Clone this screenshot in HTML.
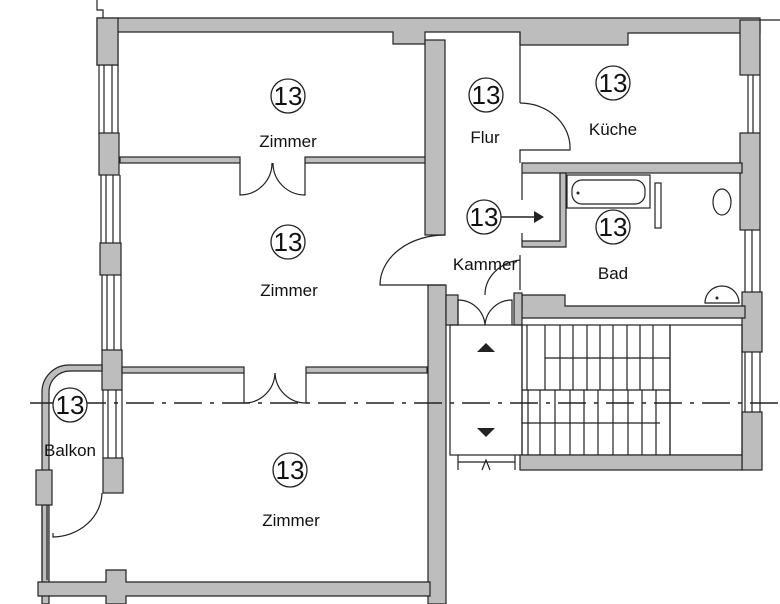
<!DOCTYPE html>
<html><head><meta charset="utf-8"><style>
html,body{margin:0;padding:0;background:#fff}
svg{display:block}
text{font-family:"Liberation Sans",sans-serif;fill:#111}
.w{fill:#bdbdbd;stroke:#222;stroke-width:1.2}
.l{fill:none;stroke:#222;stroke-width:1.2}
.n{font-size:26px;text-anchor:middle}
.t{font-size:17px;text-anchor:middle}
</style></head><body>
<svg width="780" height="604" viewBox="0 0 780 604" xmlns="http://www.w3.org/2000/svg">
<path class="l" d="M97 0 V10 H103 V18"/>
<line class="l" x1="740" y1="20" x2="780" y2="20"/>
<!-- top wall -->
<path class="w" d="M97 18 H760 V33 H740 V33 H628 V45 H520 V32 H425 V44 H393 V32 H118 V65 H97 Z"/>
<!-- left outer wall with windows -->
<rect class="w" x="97" y="18" width="21" height="47"/>
<rect class="w" x="99" y="133" width="20" height="42"/>
<rect class="w" x="100" y="243" width="21" height="32"/>
<rect class="w" x="102" y="350" width="20" height="40"/>
<rect class="w" x="103" y="458" width="20" height="35"/>
<g class="l">
<line x1="99" y1="65" x2="99" y2="133"/><line x1="104" y1="65" x2="104" y2="133"/><line x1="112" y1="65" x2="112" y2="133"/><line x1="118" y1="65" x2="118" y2="133"/>
<line x1="101" y1="175" x2="101" y2="243"/><line x1="106" y1="175" x2="106" y2="243"/><line x1="113" y1="175" x2="113" y2="243"/><line x1="120" y1="175" x2="120" y2="243"/>
<line x1="102" y1="275" x2="102" y2="350"/><line x1="107" y1="275" x2="107" y2="350"/><line x1="114" y1="275" x2="114" y2="350"/><line x1="121" y1="275" x2="121" y2="350"/>
<line x1="103" y1="390" x2="103" y2="458"/><line x1="108" y1="390" x2="108" y2="458"/><line x1="116" y1="390" x2="116" y2="458"/><line x1="122" y1="390" x2="122" y2="458"/>
</g>
<!-- interior partitions -->
<rect class="w" x="120" y="157" width="120" height="6"/>
<rect class="w" x="305" y="157" width="122" height="6"/>
<rect class="w" x="122" y="367" width="122" height="6"/>
<rect class="w" x="306" y="367" width="121" height="6"/>
<path class="l" d="M240 163 V195 A32 32 0 0 0 272 163"/>
<path class="l" d="M305 163 V195 A32 32 0 0 1 273 163"/>
<path class="l" d="M244 373 V403 A31 31 0 0 0 275 373"/>
<path class="l" d="M306 373 V403 A31 31 0 0 1 275 373"/>
<!-- vertical wall left/flur -->
<rect class="w" x="425" y="40" width="20" height="195"/>
<rect class="w" x="428" y="285" width="18" height="319"/>
<path class="l" d="M445 235 A65 50 0 0 0 380 285 H445"/>
<!-- balkon -->
<path class="w" d="M42 604 V392 A27 27 0 0 1 69 365 H102 V371 H70 A21 21 0 0 0 49 392 V604 Z"/>
<rect class="w" x="36" y="470" width="16" height="35"/>
<line class="l" x1="42" y1="505" x2="42" y2="580"/><line class="l" x1="47" y1="505" x2="47" y2="580"/>
<path class="l" d="M102 493 A50 45 0 0 1 53 537 V533"/>
<!-- bottom wall -->
<path class="w" d="M38 582 H106 V570 H126 V582 H430 V596 H126 V604 H106 V596 H38 Z"/>
<!-- flur/kitchen -->
<line class="l" x1="520" y1="32" x2="520" y2="103"/>
<path class="l" d="M520 103 A50 45 0 0 1 570 150 H520 V163"/>
<!-- right outer wall -->
<rect class="w" x="740" y="20" width="20" height="55"/>
<rect class="w" x="740" y="133" width="20" height="97"/>
<rect class="w" x="742" y="292" width="20" height="60"/>
<rect class="w" x="742" y="412" width="20" height="58"/>
<g class="l"><line x1="748" y1="75" x2="748" y2="133"/><line x1="753" y1="75" x2="753" y2="133"/><line x1="760" y1="75" x2="760" y2="133"/>
<line x1="745" y1="230" x2="745" y2="292"/><line x1="752" y1="230" x2="752" y2="292"/><line x1="760" y1="230" x2="760" y2="292"/>
<line x1="745" y1="352" x2="745" y2="412"/><line x1="752" y1="352" x2="752" y2="412"/><line x1="760" y1="352" x2="760" y2="412"/></g>
<!-- kitchen/bath wall -->
<rect class="w" x="522" y="163" width="220" height="10"/>
<path class="w" d="M560 173 H566 V247 H522 V241 H560 Z"/>
<line class="l" x1="522" y1="173" x2="522" y2="200"/>
<line class="l" x1="522" y1="233" x2="522" y2="241"/>
<line class="l" x1="520" y1="255" x2="520" y2="290"/>
<path class="l" d="M520 260 A40 35 0 0 0 485 295"/>
<!-- bathtub -->
<rect class="l" x="567" y="175" width="83" height="33"/>
<rect class="l" x="572" y="180" width="73" height="24" rx="10"/>
<circle cx="578" cy="193" r="1.5" fill="#222"/>
<rect class="l" x="655" y="183" width="6" height="45"/>
<ellipse class="l" cx="722" cy="202" rx="9" ry="13"/>
<path class="l" d="M705 303 A17 17 0 0 1 739 303 Z"/>
<circle cx="717" cy="298" r="1.5" fill="#222"/>
<!-- bad bottom wall -->
<path class="w" d="M518 310 H522 V295 H565 V306 H745 V318 H518 Z"/>
<!-- flur door to stair -->
<rect class="w" x="446" y="295" width="12" height="30"/>
<rect class="w" x="514" y="293" width="8" height="32"/>
<path class="l" d="M458 325 V300 A27 27 0 0 1 485 325 A27 27 0 0 1 512 300 V325"/>
<!-- elevator -->
<rect class="l" x="450" y="325" width="72" height="130"/>
<polygon points="477,352 495,352 486,343" fill="#222"/>
<polygon points="477,428 495,428 486,437" fill="#222"/>
<!-- stairs -->
<rect class="l" x="522" y="325" width="148" height="130"/>
<g class="l">
<line x1="522" y1="390" x2="670" y2="390"/>
<line x1="545" y1="358" x2="670" y2="358"/>
<line x1="522" y1="423" x2="660" y2="423"/>
<line x1="527" y1="325" x2="527" y2="390"/><line x1="545" y1="325" x2="545" y2="390"/><line x1="560" y1="325" x2="560" y2="390"/><line x1="573" y1="325" x2="573" y2="390"/><line x1="587" y1="325" x2="587" y2="390"/><line x1="600" y1="325" x2="600" y2="390"/><line x1="613" y1="325" x2="613" y2="390"/><line x1="627" y1="325" x2="627" y2="390"/><line x1="640" y1="325" x2="640" y2="390"/><line x1="653" y1="325" x2="653" y2="390"/>
<line x1="528" y1="390" x2="528" y2="455"/><line x1="540" y1="390" x2="540" y2="455"/><line x1="555" y1="390" x2="555" y2="455"/><line x1="570" y1="390" x2="570" y2="455"/><line x1="584" y1="390" x2="584" y2="455"/><line x1="598" y1="390" x2="598" y2="455"/><line x1="613" y1="390" x2="613" y2="455"/><line x1="628" y1="390" x2="628" y2="455"/><line x1="642" y1="390" x2="642" y2="455"/><line x1="656" y1="390" x2="656" y2="455"/>
</g>
<rect class="l" x="670" y="325" width="72" height="130"/>
<rect class="w" x="520" y="455" width="222" height="15"/>
<path class="l" d="M458 455 V470 M515 455 V470 M458 462 H515 M482 470 L486 460 L490 470"/>
<!-- dash-dot line -->
<line x1="30" y1="403" x2="780" y2="403" stroke="#222" stroke-width="1.4" stroke-dasharray="28,8,4,8"/>
<!-- labels -->
<g fill="#fff" stroke="#222" stroke-width="1.3">
<circle cx="288" cy="96" r="17"/><circle cx="288" cy="242" r="17"/><circle cx="70" cy="405" r="17"/><circle cx="290" cy="470" r="17"/>
<circle cx="486" cy="95" r="17"/><circle cx="613" cy="83" r="17"/><circle cx="484" cy="217" r="17"/><circle cx="613" cy="227" r="17"/>
</g>
<path d="M501 217 H535" stroke="#222" stroke-width="1.5"/><polygon points="534,211 544,217 534,223" fill="#222"/>
<text x="288" y="105" class="n">13</text><text x="288" y="251" class="n">13</text><text x="70" y="414" class="n">13</text><text x="290" y="479" class="n">13</text>
<text x="486" y="104" class="n">13</text><text x="613" y="92" class="n">13</text><text x="484" y="226" class="n">13</text><text x="613" y="236" class="n">13</text>
<text x="288" y="147" class="t">Zimmer</text>
<text x="289" y="296" class="t">Zimmer</text>
<text x="70" y="456" class="t">Balkon</text>
<text x="291" y="526" class="t">Zimmer</text>
<text x="485" y="143" class="t">Flur</text>
<text x="613" y="135" class="t">Küche</text>
<text x="485" y="270" class="t">Kammer</text>
<text x="613" y="279" class="t">Bad</text>
</svg>
</body></html>
